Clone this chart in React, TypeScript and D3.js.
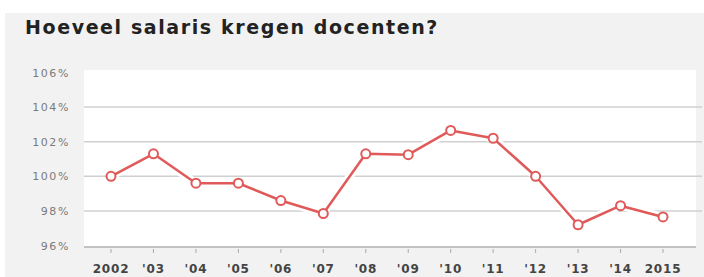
import React from "react";
import * as d3 from "d3";

const years = ["2002", "'03", "'04", "'05", "'06", "'07", "'08", "'09", "'10", "'11", "'12", "'13", "'14", "2015"];
const salaris = [100.0, 101.3, 99.6, 99.6, 98.6, 97.85, 101.3, 101.25, 102.65, 102.2, 100.0, 97.2, 98.3, 97.65];
const yTicks = [96, 98, 100, 102, 104, 106];
const title = "Hoeveel salaris kregen docenten?";

export default function App() {
  const W = 704, H = 277;
  const plot = { x0: 84, x1: 696, y0: 70, y1: 247 };
  const x = d3.scalePoint<string>().domain(years).range([111, 663]);
  const y = d3.scaleLinear().domain([96, 106]).range([245.5, 72.5]);
  const line = d3.line<number>().x((_, i) => x(years[i])!).y((d) => y(d));
  const path = line(salaris) || "";
  const font = "'DejaVu Sans', Verdana, sans-serif";
  return (
    <svg width={W} height={H} style={{ position: "absolute", left: 0, top: 0, display: "block" }}>
      <rect x={0} y={0} width={W} height={H} fill="#ffffff" />
      <rect x={5} y={13} width={W - 5} height={H - 13} fill="#f2f2f2" />
      <text x={25} y={34} fontFamily={font} fontWeight={700} fontSize={19} fill="#222" letterSpacing={1.6}>
        {title}
      </text>
      <rect x={plot.x0} y={plot.y0} width={plot.x1 - plot.x0} height={plot.y1 - plot.y0} fill="#ffffff" />
      {yTicks.map((t) => (
        <g key={t}>
          {t !== 96 && t !== 106 && (
            <line x1={plot.x0} x2={plot.x1 + 6} y1={y(t)} y2={y(t)} stroke="#d0d0d0" strokeWidth={1.5} />
          )}
          <text x={70} y={y(t) + 4} textAnchor="end" fontFamily={font} fontSize={11} fill="#7a7a7a" letterSpacing={1.6}>
            {t}%
          </text>
        </g>
      ))}
      <line x1={plot.x0} x2={plot.x1} y1={247} y2={247} stroke="#b0b0b0" strokeWidth={1.5} />
      {years.map((yr) => (
        <g key={yr}>
          <line x1={x(yr)} x2={x(yr)} y1={249} y2={253} stroke="#aaa" strokeWidth={1} />
          <text x={x(yr)} y={273} textAnchor="middle" fontFamily={font} fontSize={12} fontWeight={700} fill="#444" letterSpacing={0.8}>
            {yr}
          </text>
        </g>
      ))}
      <path d={path} fill="none" stroke="#ffffff" strokeWidth={8} strokeLinejoin="round" />
      <path d={path} fill="none" stroke="#e05a5a" strokeWidth={2.5} strokeLinejoin="round" />
      {salaris.map((v, i) => (
        <circle key={i} cx={x(years[i])} cy={y(v)} r={4.5} fill="#fff" stroke="#e05a5a" strokeWidth={2} />
      ))}
    </svg>
  );
}
